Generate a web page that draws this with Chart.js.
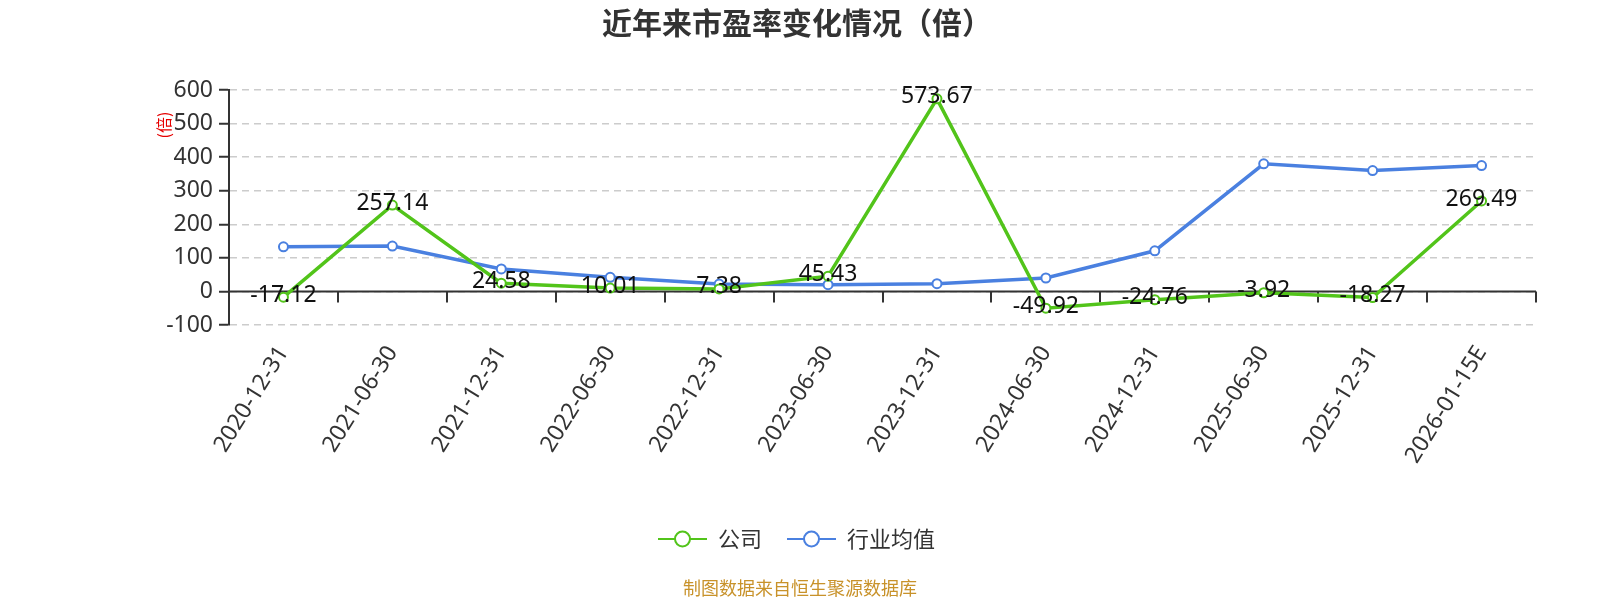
<!DOCTYPE html>
<html>
<head>
<meta charset="utf-8">
<script src="https://cdn.jsdelivr.net/npm/chart.js@4.4.1/dist/chart.umd.min.js"></script>
<style>
  html, body { margin: 0; padding: 0; background: #fff; }
  #wrap { width: 1600px; height: 600px; position: relative; }
</style>
</head>
<body>
<div id="wrap"><canvas id="peChart" width="1600" height="600"></canvas></div>
<script>
// categories and series
const dates = ["2020-12-31", "2021-06-30", "2021-12-31", "2022-06-30", "2022-12-31", "2023-06-30",
               "2023-12-31", "2024-06-30", "2024-12-31", "2025-06-30", "2025-12-31", "2026-01-15E"];
const companyPE = [-17.12, 257.14, 24.58, 10.01, 7.38, 45.43, 573.67, -49.92, -24.76, -3.92, -18.27, 269.49];
const industryPE = [133, 135, 67, 42, 22, 20, 23, 40, 121, 380, 360, 375];
const yTicks = [-100, 0, 100, 200, 300, 400, 500, 600];

const GREEN = "#52c41a";
const BLUE = "#4a80e0";
const FONT = "'Noto Sans', 'Noto Sans CJK SC', sans-serif";
const CJK = "'Noto Sans CJK SC', sans-serif";

// draws the title, zero axis, labels, legend and footer
const decor = {
    id: "decor",
    beforeDatasetsDraw(chart) {
        const ctx = chart.ctx;
        const y = chart.scales.y;
        const y0 = y.getPixelForValue(0);
        const left = chart.chartArea.left, right = chart.chartArea.right;
        ctx.save();
        ctx.strokeStyle = "#333";
        ctx.lineWidth = 2;
        ctx.beginPath();
        ctx.moveTo(left, y0);
        ctx.lineTo(right, y0);
        // tick marks between categories
        const step = (right - left) / dates.length;
        for (let i = 1; i <= dates.length; i++) {
            const px = Math.round(left + step * i);
            ctx.moveTo(px, y0);
            ctx.lineTo(px, y0 + 11);
        }
        ctx.stroke();
        ctx.restore();
    },
    afterDatasetsDraw(chart) {
        const ctx = chart.ctx;
        ctx.save();
        // point labels for the company series
        const meta = chart.getDatasetMeta(0);
        ctx.font = "23px " + FONT;
        ctx.fillStyle = "#111";
        ctx.textAlign = "center";
        ctx.textBaseline = "middle";
        meta.data.forEach((pt, i) => {
            ctx.fillText(companyPE[i].toFixed(2), pt.x, pt.y - 2);
        });

        // title
        ctx.font = "bold 30px " + CJK;
        ctx.fillStyle = "#333";
        ctx.fillText("近年来市盈率变化情况（倍）", 797, 23);

        // y axis unit
        ctx.save();
        ctx.translate(164, 125);
        ctx.rotate(-Math.PI / 2);
        ctx.font = "16px " + CJK;
        ctx.fillStyle = "#e60000";
        ctx.fillText("(倍)", 0, 0);
        ctx.restore();

        // legend
        const legendY = 539;
        const items = [
            { label: "公司", color: GREEN, x0: 658 },
            { label: "行业均值", color: BLUE, x0: 787 }
        ];
        items.forEach(it => {
            ctx.strokeStyle = it.color;
            ctx.lineWidth = 2;
            ctx.beginPath();
            ctx.moveTo(it.x0, legendY);
            ctx.lineTo(it.x0 + 49, legendY);
            ctx.stroke();
            ctx.beginPath();
            ctx.arc(it.x0 + 24.5, legendY, 7.5, 0, Math.PI * 2);
            ctx.fillStyle = "#fff";
            ctx.fill();
            ctx.stroke();
            ctx.font = "22px " + CJK;
            ctx.fillStyle = "#333";
            ctx.textAlign = "left";
            ctx.fillText(it.label, it.x0 + 60, legendY);
        });

        // footer
        ctx.font = "18px " + CJK;
        ctx.fillStyle = "#c8922a";
        ctx.textAlign = "center";
        ctx.fillText("制图数据来自恒生聚源数据库", 800, 588);
        ctx.restore();
    }
};

const ctx = document.getElementById("peChart").getContext("2d");
new Chart(ctx, {
    type: "line",
    data: {
        labels: dates,
        datasets: [
            {
                label: "公司",
                data: companyPE,
                borderColor: GREEN,
                backgroundColor: "#fff",
                pointBackgroundColor: "#fff",
                pointBorderColor: GREEN,
                pointBorderWidth: 2,
                pointRadius: 4.5,
                borderWidth: 3.5,
                fill: false
            },
            {
                label: "行业均值",
                data: industryPE,
                borderColor: BLUE,
                backgroundColor: "#fff",
                pointBackgroundColor: "#fff",
                pointBorderColor: BLUE,
                pointBorderWidth: 2,
                pointRadius: 4.5,
                borderWidth: 3.5,
                fill: false
            }
        ]
    },
    options: {
        responsive: false,
        animation: false,
        layout: {
            padding: { top: 90, left: 0, right: 64, bottom: 0 }
        },
        plugins: {
            legend: { display: false },
            title: { display: false },
            tooltip: { enabled: false }
        },
        scales: {
            x: {
                offset: true,
                grid: { display: false },
                border: { display: false },
                ticks: {
                    autoSkip: false,
                    maxRotation: 58,
                    minRotation: 58,
                    padding: 8,
                    color: "#333",
                    font: { size: 23, family: FONT }
                },
                afterFit(scale) { scale.height = 275; }
            },
            y: {
                min: yTicks[0],
                max: yTicks[yTicks.length - 1],
                afterBuildTicks(scale) {
                    scale.ticks = yTicks.map(v => ({ value: v }));
                },
                ticks: {
                    padding: 6,
                    color: "#333",
                    font: { size: 23, family: FONT }
                },
                grid: {
                    color: "#ccc",
                    lineWidth: 1.5,
                    tickLength: 10,
                    tickColor: "#333",
                    tickWidth: 2
                },
                border: { display: true, color: "#333", width: 2, dash: [7, 5] },
                afterFit(scale) { scale.width = 229; }
            }
        }
    },
    plugins: [decor]
});
</script>
</body>
</html>
